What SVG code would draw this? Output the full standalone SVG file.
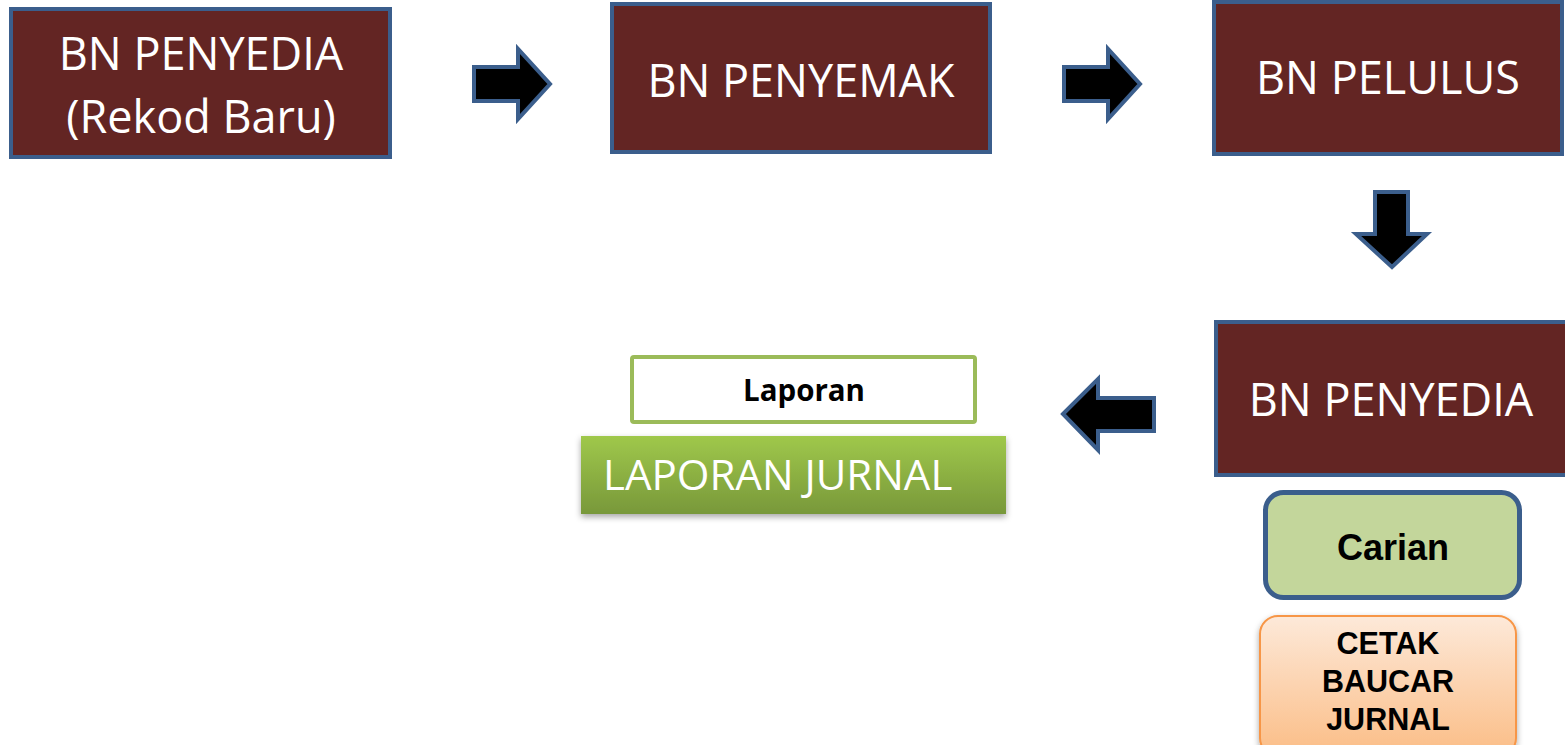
<svg xmlns="http://www.w3.org/2000/svg" width="1565" height="745" viewBox="0 0 1565 745">
<style>
.box{fill:#632523;stroke:#3b5e8c;stroke-width:4}
.bt{font-family:"Open Sans","Liberation Sans",sans-serif;font-size:45px;fill:#ffffff;text-anchor:middle}
.arr{fill:#000000;stroke:#3b5e8c;stroke-width:4;stroke-linejoin:miter}
.ab{font-family:"Liberation Sans",Arial,sans-serif;font-weight:bold;fill:#000000;text-anchor:middle}
</style>
<defs>
<linearGradient id="gGreen" x1="0" y1="0" x2="0" y2="1">
<stop offset="0" stop-color="#9fc84b"/>
<stop offset="1" stop-color="#78983a"/>
</linearGradient>
<linearGradient id="gOrange" x1="0" y1="0" x2="0" y2="1">
<stop offset="0" stop-color="#fde9d9"/>
<stop offset="1" stop-color="#fbbd86"/>
</linearGradient>
<filter id="sh" x="-10%" y="-10%" width="120%" height="130%">
<feDropShadow dx="0" dy="3" stdDeviation="3" flood-color="#000" flood-opacity="0.35"/>
</filter>
</defs>

<g id="n-penyedia-baru">
<rect class="box" x="11" y="9" width="379" height="148"/>
<text class="bt" x="201" y="70">BN PENYEDIA</text>
<text class="bt" x="201" y="133">(Rekod Baru)</text>
</g>

<g id="n-penyemak">
<rect class="box" x="612" y="4" width="378" height="148"/>
<text class="bt" x="801" y="97">BN PENYEMAK</text>
</g>

<g id="n-pelulus">
<rect class="box" x="1214" y="2" width="348" height="152"/>
<text class="bt" x="1388" y="94">BN PELULUS</text>
</g>

<g id="n-penyedia">
<rect class="box" x="1216" y="322" width="352" height="153"/>
<text class="bt" x="1391" y="416">BN PENYEDIA</text>
</g>

<g id="n-carian">
<rect x="1265.5" y="492.5" width="254" height="105" rx="18" fill="#c3d69b" stroke="#3b5e8c" stroke-width="5"/>
<text class="ab" x="1393" y="560" font-size="36">Carian</text>
</g>

<g id="n-cetak">
<rect x="1260" y="616" width="256" height="140" rx="18" fill="url(#gOrange)" stroke="#f79646" stroke-width="2" filter="url(#sh)"/>
<text class="ab" x="1388" y="654" font-size="30.5">CETAK</text>
<text class="ab" x="1388" y="692" font-size="30.5">BAUCAR</text>
<text class="ab" x="1388" y="730" font-size="30.5">JURNAL</text>
</g>

<g id="n-laporan">
<rect x="632" y="357" width="343" height="65" rx="2" fill="#ffffff" stroke="#9bbb59" stroke-width="4"/>
<text x="804" y="401" font-family="'Open Sans','Liberation Sans',sans-serif" font-weight="bold" font-size="29.5" text-anchor="middle" fill="#000000">Laporan</text>
</g>

<g id="n-laporan-jurnal">
<rect x="581" y="436" width="425" height="78" fill="url(#gGreen)" filter="url(#sh)"/>
<text x="603" y="490" font-family="'Open Sans','Liberation Sans',sans-serif" font-size="42" fill="#ffffff">LAPORAN JURNAL</text>
</g>

<g id="connectors">
<path class="arr" d="M474,67 L518,67 L518,49 L550,84 L518,119 L518,101 L474,101 Z"/>
<path class="arr" d="M1064,67 L1108,67 L1108,49 L1140,84 L1108,119 L1108,101 L1064,101 Z"/>
<path class="arr" d="M1375,192 L1408,192 L1408,234 L1427,234 L1392,267 L1356,234 L1375,234 Z"/>
<path class="arr" d="M1063,414 L1098,379 L1098,398 L1154,398 L1154,431 L1098,431 L1098,450 Z"/>
</g>
</svg>
